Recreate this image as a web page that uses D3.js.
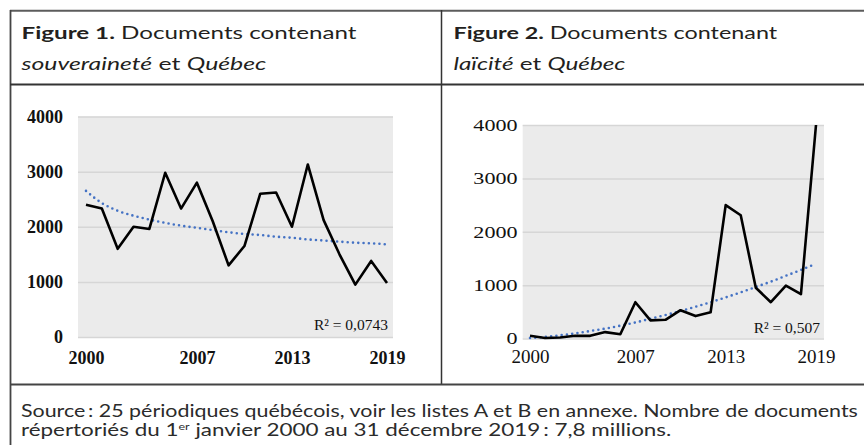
<!DOCTYPE html>
<html>
<head>
<meta charset="utf-8">
<script src="https://cdn.jsdelivr.net/npm/d3@7"></script>
<style>
  body { margin: 0; background: #fff; }
  svg { display: block; }
</style>
</head>
<body>
<div id="chart"></div>
<script>
// years on the x axis (one point per year)
const years = [2000, 2001, 2002, 2003, 2004, 2005, 2006, 2007, 2008, 2009,
               2010, 2011, 2012, 2013, 2014, 2015, 2016, 2017, 2018, 2019];
const xTickLabels = [2000, 2007, 2013, 2019];
const yTicks = [0, 1000, 2000, 3000, 4000];

// Figure 1 : souveraineté + Québec
const souverainete = [2400, 2330, 1600, 2000, 1960, 2980, 2330, 2800, 2100, 1300,
                      1650, 2600, 2620, 2000, 3130, 2120, 1500, 950, 1380, 980];
// dotted trend line
const souveraineteTrend = [2650, 2430, 2290, 2200, 2130, 2070, 2020, 1980, 1940, 1900,
                           1870, 1850, 1820, 1800, 1770, 1750, 1730, 1710, 1700, 1680];

// Figure 2 : laïcité + Québec
const laicite = [50, 10, 20, 50, 50, 120, 80, 680, 340, 350,
                 530, 420, 490, 2500, 2310, 950, 680, 990, 830, 4000];
const laiciteTrend = [10, 30, 60, 95, 140, 185, 240, 300, 370, 440,
                      515, 595, 680, 770, 865, 965, 1065, 1175, 1285, 1400];

const r2Labels = ['R² = 0,0743', 'R² = 0,507'];

const W = 864, H = 445;
const svg = d3.select('#chart').append('svg').attr('width', W).attr('height', H);

// fit a text line to a width
function fitText(sel, x, y, width) {
  const len = sel.node().getComputedTextLength();
  sel.attr('transform', `translate(${x},${y}) scale(${width / len},1)`);
}

// ---- table frame
const frame = svg.append('g').attr('fill', 'none');
frame.append('line').attr('x1', 10).attr('x2', W).attr('y1', 10.7).attr('y2', 10.7)
  .attr('stroke', '#5c5c5c').attr('stroke-width', 2);
frame.append('line').attr('x1', 10.5).attr('x2', 10.5).attr('y1', 10).attr('y2', H)
  .attr('stroke', '#444').attr('stroke-width', 1.8);
frame.append('line').attr('x1', 10).attr('x2', W).attr('y1', 84.5).attr('y2', 84.5)
  .attr('stroke', '#333').attr('stroke-width', 2);
frame.append('line').attr('x1', 441.5).attr('x2', 441.5).attr('y1', 10).attr('y2', 384.5)
  .attr('stroke', '#333').attr('stroke-width', 1.5);
frame.append('line').attr('x1', 10).attr('x2', W).attr('y1', 384.5).attr('y2', 384.5)
  .attr('stroke', '#444').attr('stroke-width', 1.8);

// ---- headers
const headFont = 'Lato, "Open Sans", sans-serif';
const headers = [
  { x: 21.5, num: 'Figure 1.', word: 'souveraineté', w1: 335, w2: 245 },
  { x: 453.5, num: 'Figure 2.', word: 'laïcité', w1: 324, w2: 172 }
];
headers.forEach(hd => {
  const t1 = svg.append('text').attr('font-family', headFont).attr('font-size', 17.5)
    .attr('fill', '#231f20');
  t1.append('tspan').attr('font-weight', 'bold').text(hd.num);
  t1.append('tspan').text(' Documents contenant');
  fitText(t1, hd.x, 39, hd.w1);

  const t2 = svg.append('text').attr('font-family', headFont).attr('font-size', 17.5)
    .attr('fill', '#231f20');
  t2.append('tspan').attr('font-style', 'italic').text(hd.word);
  t2.append('tspan').text(' et ');
  t2.append('tspan').attr('font-style', 'italic').text('Québec');
  fitText(t2, hd.x, 70, hd.w2);
});

// ---- footer
const f1 = svg.append('text').attr('font-family', headFont).attr('font-size', 17)
  .attr('fill', '#2b2b2b')
  .text('Source\u2009: 25 périodiques québécois, voir les listes A et B en annexe. Nombre de documents');
fitText(f1, 21, 416.5, 837);
const f2 = svg.append('text').attr('font-family', headFont).attr('font-size', 17)
  .attr('fill', '#2b2b2b');
f2.append('tspan').text('répertoriés du 1');
f2.append('tspan').attr('font-size', 9.5).attr('dy', -6).text('er');
f2.append('tspan').attr('dy', 6).text(' janvier 2000 au 31 décembre 2019\u2009: 7,8 millions.');
fitText(f2, 21, 435.5, 651);

// ---- the two line charts
const charts = [
  {
    values: souverainete, trend: souveraineteTrend, r2: r2Labels[0],
    box: { x0: 78, x1: 393, y0: 116.5, y1: 337 },
    xRange: [86, 387],
    yLabel: { size: 18, weight: 'bold', pad: 15, sx: 1 },
    xLabel: { size: 18, weight: 'bold', pad: 14 },
    r2Pos: [388, 330]
  },
  {
    values: laicite, trend: laiciteTrend, r2: r2Labels[1],
    box: { x0: 522.7, x1: 824, y0: 125, y1: 338.5 },
    xRange: [530, 816],
    yLabel: { size: 17, weight: 'normal', pad: 4, sx: 1.3 },
    xLabel: { size: 19, weight: 'normal', pad: 11 },
    r2Pos: [820, 333.3]
  }
];

const serif = '"Liberation Serif", "Times New Roman", serif';

charts.forEach(c => {
  const b = c.box;
  const x = d3.scalePoint().domain(years).range(c.xRange);
  const y = d3.scaleLinear().domain([0, 4000]).range([b.y1, b.y0]);
  const g = svg.append('g');

  g.append('rect')
    .attr('x', b.x0).attr('y', b.y0)
    .attr('width', b.x1 - b.x0).attr('height', b.y1 - b.y0)
    .attr('fill', '#ebebeb');

  // gridlines
  const grid = g.append('g').attr('transform', `translate(${b.x0},0)`)
    .call(d3.axisLeft(y).tickValues(yTicks).tickSize(-(b.x1 - b.x0)).tickFormat(''));
  grid.select('.domain').remove();
  grid.selectAll('line').attr('stroke', '#d6d6d6').attr('stroke-width', 1.5);

  // y labels
  const ya = g.append('g').attr('transform', `translate(${b.x0},0)`)
    .call(d3.axisLeft(y).tickValues(yTicks).tickSize(0).tickPadding(c.yLabel.pad)
      .tickFormat(d3.format('d')));
  ya.select('.domain').remove();
  ya.selectAll('text')
    .attr('font-family', serif).attr('font-size', c.yLabel.size)
    .attr('font-weight', c.yLabel.weight).attr('fill', '#111')
    .attr('transform', `scale(${c.yLabel.sx},1)`);

  // x labels
  const xa = g.append('g').attr('transform', `translate(0,${b.y1})`)
    .call(d3.axisBottom(x).tickValues(xTickLabels).tickSize(0).tickPadding(c.xLabel.pad));
  xa.select('.domain').remove();
  xa.selectAll('text')
    .attr('font-family', serif).attr('font-size', c.xLabel.size)
    .attr('font-weight', c.xLabel.weight).attr('fill', '#111');

  // trend (dotted blue)
  g.append('path')
    .datum(c.trend)
    .attr('d', d3.line().x((d, i) => x(years[i])).y(d => y(d)).curve(d3.curveMonotoneX))
    .attr('fill', 'none')
    .attr('stroke', '#4472c4')
    .attr('stroke-width', 2.6)
    .attr('stroke-linecap', 'round')
    .attr('stroke-dasharray', '0 5.3');

  // data line
  g.append('path')
    .datum(c.values)
    .attr('d', d3.line().x((d, i) => x(years[i])).y(d => y(d)))
    .attr('fill', 'none')
    .attr('stroke', '#000')
    .attr('stroke-width', 2.6)
    .attr('stroke-linejoin', 'round');

  g.append('text')
    .attr('x', c.r2Pos[0]).attr('y', c.r2Pos[1])
    .attr('text-anchor', 'end')
    .attr('font-family', serif).attr('font-size', 15.5).attr('fill', '#111')
    .text(c.r2);
});
</script>
</body>
</html>
